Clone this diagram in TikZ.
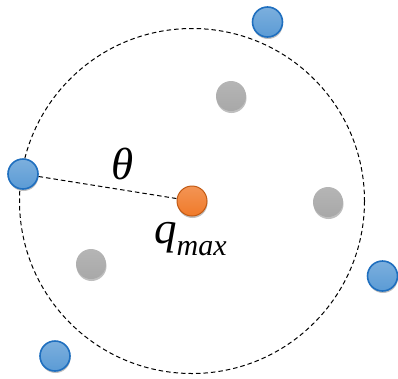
\documentclass[tikz,border=0pt]{standalone}
\usepackage{fontspec}
\setmainfont{Liberation Serif}
\usepackage{tikz}
\usetikzlibrary{shadows}

\definecolor{dotblue}{HTML}{5B9BD5}
\definecolor{dotblueline}{HTML}{1F6FBF}
\definecolor{dotorange}{HTML}{F07A2A}
\definecolor{dotorangeline}{HTML}{C25A14}
\definecolor{dotgray}{HTML}{A8A8A8}

\begin{document}
\begin{tikzpicture}[
    x=1pt, y=-1pt,
    dot/.style={circle, inner sep=0pt, minimum size=30pt, drop shadow={shadow xshift=0.5pt, shadow yshift=-2pt, opacity=0.25, fill=black}},
    bluedot/.style={dot, draw=dotblueline, line width=1.6pt, top color=dotblue!80!white, bottom color=dotblue},
    graydot/.style={dot, top color=dotgray!85!white, bottom color=dotgray},
    maxdot/.style={dot, draw=dotorangeline, line width=1pt, top color=dotorange!80!white, bottom color=dotorange},
    dashline/.style={dashed, dash pattern=on 4.5pt off 3pt, line width=1pt},
    bigtext/.style={font=\fontsize{45}{45}\selectfont\itshape, inner sep=0pt}
]
\useasboundingbox (0,0) rectangle (398,378);

% range circle around the maximum
\node[maxdot] (qmax) at (192,201) {};
\draw[dashline] (qmax.center) circle[radius=172.5];

% points outside the range
\node[bluedot] (b1) at (267.5,22) {};
\node[bluedot] (b2) at (23,174) {};
\node[bluedot] (b3) at (382.5,276) {};
\node[bluedot] (b4) at (55,356) {};

% points inside the range
\node[graydot] (g1) at (231,96) {};
\node[graydot] (g2) at (328,202) {};
\node[graydot] (g3) at (91,264) {};

\draw[dashline] (b2) -- (qmax);

\node[bigtext, anchor=base] (theta) at (122.5,179) {θ};
\node[bigtext, anchor=base west] (qlabel) at (154,243) {q\raisebox{-12pt}{\fontsize{30}{30}\selectfont max}};

\end{tikzpicture}
\end{document}
